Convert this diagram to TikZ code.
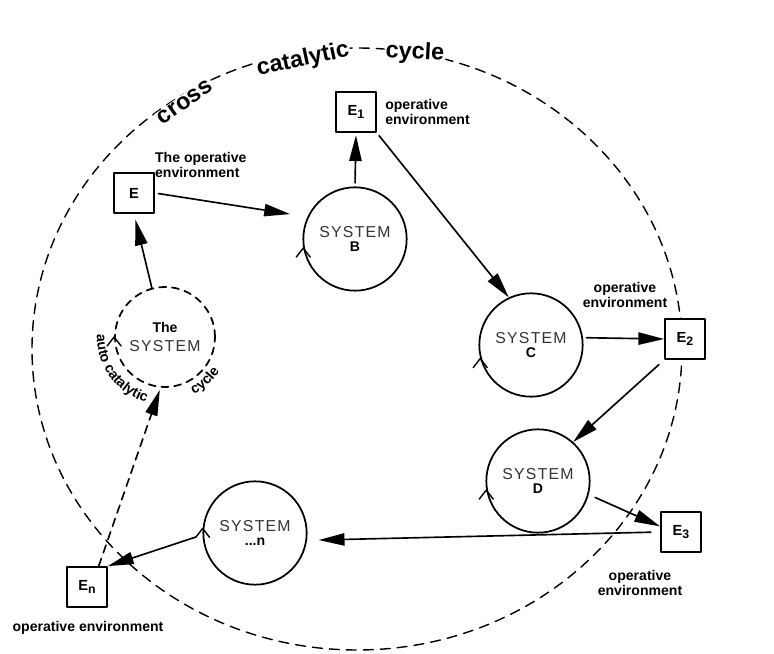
\documentclass[tikz,border=0pt]{standalone}
\usepackage{fontspec}
\setmainfont{Liberation Sans}
\newfontfamily\handfont[LetterSpace=8]{Liberation Sans}
\usetikzlibrary{arrows.meta,positioning,calc,decorations.text}

\newcommand\envfont{\bfseries\fontsize{12}{13}\selectfont}
\newcommand\envsub[1]{\raisebox{-3pt}{\fontsize{10.5}{10.5}\selectfont#1}}
\newcommand\sysword{{\color{black!80}\handfont\fontsize{13.5}{15}\selectfont SYSTEM}}

\tikzset{
  sys/.style={circle, draw, line width=1.5pt, minimum size=3.1cm, align=center, inner sep=0pt},
  envbox/.style={draw, fill=white, line width=1.5pt, minimum size=1.2cm, font=\bfseries\fontsize{12.5}{14}\selectfont},
  envlbl/.style={font=\envfont, align=center, inner sep=0pt},
  arr/.style={line width=1.4pt, -{Triangle[length=22pt,width=10.5pt]}},
  bigword/.style={font=\bfseries\fontsize{20}{22}\selectfont, fill=white, inner sep=1pt},
}

\begin{document}
\begin{tikzpicture}[line cap=round, line join=round, x=0.03cm, y=-0.03cm]
                \useasboundingbox (0,0) rectangle (774,654);

                % cross catalytic cycle
                \draw[line width=1.2pt, dash pattern=on 8.5pt off 6pt] (357,349) ellipse [x radius=325, y radius=301];
                \node[bigword, rotate=35] (wcross) at (185,102) {cross};
                \node[bigword, rotate=12] (wcat) at (303,60) {catalytic};
                \node[bigword, rotate=-3] (wcycle) at (415,53) {cycle};

                % The system
                \node[sys, dash pattern=on 6pt off 5pt, minimum size=3cm] (sysA) at (165,337) {{\envfont The}\\[5pt]\sysword};
                \begin{scope}[shift={(sysA.center)}, x=0.03cm, y=0.03cm]
                  \path[decorate, decoration={text along path, text align=center, text={|\envfont|auto catalytic}}] (170:68) arc[start angle=170, end angle=262, radius=68];
                  \path[decorate, decoration={text along path, text align=center, text={|\envfont|cycle}}] (290:64) arc[start angle=290, end angle=335, radius=64];
                \end{scope}

                % E
                \node[envbox] (E) at (134,193) {E};
                \node[envlbl, anchor=west, align=left] (lblE) at ([yshift=6pt]E.north east) {The operative\\environment};

                % System B
                \node[sys] (sysB) at (355,239) {\sysword\\{\envfont B}};
                \node[envbox] (E1) at (356,112) {E\envsub{1}};
                \node[envlbl, align=left, right=7pt of E1] (lblE1) {operative\\environment};

                % System C
                \node[sys] (sysC) at (531,345) {\sysword\\{\envfont C}};
                \node[envbox] (E2) at (685,339) {E\envsub{2}};
                \node[envlbl] (lblE2) at (625,295) {operative\\environment};

                % System D
                \node[sys] (sysD) at (538,481) {\sysword\\{\envfont D}};
                \node[envbox] (E3) at (681,532) {E\envsub{3}};
                \node[envlbl] (lblE3) at (640,583) {operative\\environment};

                % System n
                \node[sys] (sysN) at (255,533) {\sysword\\{\envfont ...n}};
                \node[envbox] (En) at (87,587) {E\envsub{n}};
                \node[envlbl] (lblEn) at (88,628) {operative environment};

                % cycle marks
                \foreach \s/\a in {sysA/180, sysB/190, sysC/195, sysD/190, sysN/175}
                  \draw[line width=1.2pt] ($(\s.\a)+(-7,9)$) -- (\s.\a) -- ($(\s.\a)+(7,9)$);

                % arrows
                \draw[arr, shorten <=3pt, shorten >=15pt] (E.east) -- (sysB.155);
                \draw[arr, shorten >=5pt] (sysA.105) -- (E.south);
                \draw[arr, shorten <=3pt, shorten >=2pt] (sysB.north) -- (E1.south);
                \draw[arr, shorten <=3pt] (E1.south east) -- (sysC.115);
                \draw[arr, shorten <=3pt] (sysC.8) -- (E2.west);
                \draw[arr, shorten <=6pt] (E2.south west) -- (sysD.48);
                \draw[arr, shorten <=6pt] (sysD.-15) -- (E3.165);
                \draw[arr, shorten <=8pt, shorten >=10pt] (E3.west) -- (sysN.-8);
                \draw[arr, shorten <=6pt] (sysN.182) -- (En.north east);
                \draw[arr, dash pattern=on 7pt off 5pt, shorten >=2pt] ([xshift=10pt]En.north) -- (sysA.265);
            \end{tikzpicture}
\end{document}
